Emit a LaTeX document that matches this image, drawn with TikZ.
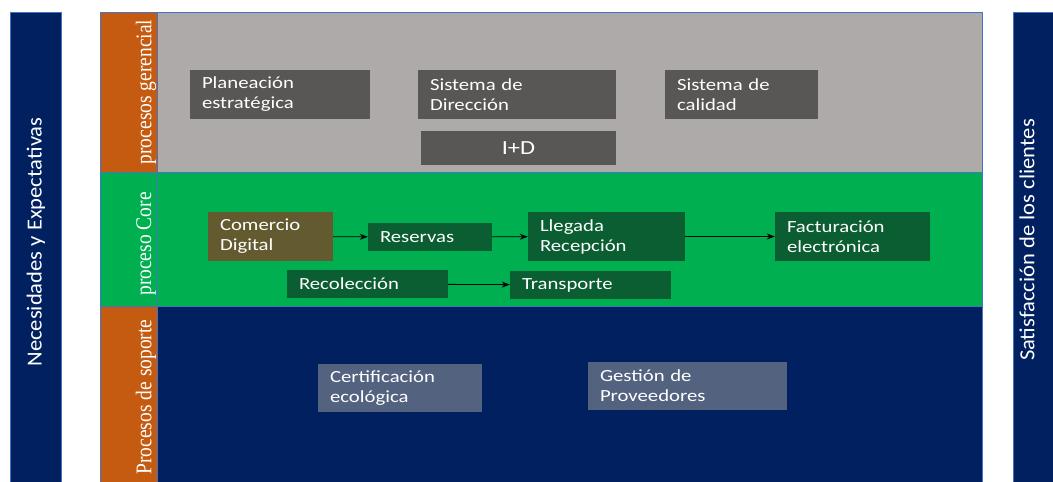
\documentclass[tikz,border=0pt]{standalone}
\usepackage{fontspec}
\setmainfont{Carlito}
\newfontfamily\boxfont{Carlito}[FakeStretch=1.22]
\newfontfamily\bandfont{Carlito}[FakeStretch=1.05]
\newfontfamily\tagfont{Liberation Serif}[FakeStretch=0.87]
\usepackage{tikz}
\usetikzlibrary{positioning,arrows.meta}
\definecolor{navyblue}{HTML}{002060}
\definecolor{tagorange}{HTML}{C55A11}
\definecolor{mgmtgray}{HTML}{AEAAAA}
\definecolor{coregreen}{HTML}{00B050}
\definecolor{edgeblue}{HTML}{4472C4}
\definecolor{boxgray}{HTML}{595656}
\definecolor{boxbrown}{HTML}{635A30}
\definecolor{boxgreen}{HTML}{0B5D32}
\definecolor{boxslate}{HTML}{52627F}
\tikzset{>={Stealth[length=8pt,width=6pt]}, % arrow heads
panel/.style={draw=edgeblue, line width=0.7pt}, % the big coloured areas
bandtext/.style={text=white, rotate=90, font=\bandfont\fontsize{21.5}{24}\selectfont}, % text on the side bands
tag/.style={text=white, rotate=90, font=\tagfont\fontsize{22.4}{24}\selectfont}, % row names
box/.style={text=white, align=left, inner xsep=12pt, inner ysep=0pt, font=\boxfont\fontsize{17}{20}\selectfont}, % process boxes
flow/.style={->, line width=0.8pt}, % arrows between processes
}

\begin{document}
\begin{tikzpicture}[x=1pt, y=-1pt]
\useasboundingbox (0,0) rectangle (1053,482);

% side bands
\node[panel, fill=navyblue, minimum width=51, minimum height=478] (need) at (35.5,251) {};
\node[bandtext] at (36,242) {Necesidades y Expectativas};
\node[panel, fill=navyblue, minimum width=46, minimum height=478] (sat) at (1036,251) {};
\node[bandtext] at (1027,240) {Satisfacción de los clientes};

% rows
\node[panel, fill=mgmtgray, minimum width=825, minimum height=160] (mgmt) at (569.5,92) {};
\node[panel, fill=tagorange, minimum width=57, minimum height=160] (tmgmt) at (128.5,92) {};
\node[tag] at (146,92) {procesos gerencial};

\node[panel, fill=coregreen, minimum width=825, minimum height=134] (core) at (569.5,239) {};
\node[panel, fill=coregreen, minimum width=57, minimum height=134] (tcore) at (128.5,239) {};
\node[tag] at (146,244) {proceso Core};

\node[panel, fill=navyblue, minimum width=825, minimum height=184] (supp) at (569.5,398) {};
\node[panel, fill=tagorange, minimum width=57, minimum height=184] (tsupp) at (128.5,398) {};
\node[tag] at (146,397) {Procesos de soporte};

% management boxes
\node[box, fill=boxgray, minimum width=180, minimum height=49, text width=156] (plan) at (280,94.5) {Planeación\\estratégica};
\node[box, fill=boxgray, minimum width=198, minimum height=49, text width=174] (dir) at (517,94.5) {Sistema de\\Dirección};
\node[box, fill=boxgray, minimum width=153, minimum height=49, text width=129] (qual) at (741.5,94.5) {Sistema de\\calidad};
\node[box, fill=boxgray, align=center, minimum width=195, minimum height=34, font=\boxfont\fontsize{20}{24}\selectfont] (rd) at (518.5,148) {I+D};

% core boxes
\node[box, fill=boxbrown, minimum width=125, minimum height=49, text width=101] (com) at (270.5,236.5) {Comercio\\Digital};
\node[box, fill=boxgreen, minimum width=124, minimum height=28, text width=100] (res) at (430,237) {Reservas};
\node[box, fill=boxgreen, minimum width=157, minimum height=49, text width=133] (arr) at (606.5,236.5) {Llegada\\Recepción};
\node[box, fill=boxgreen, minimum width=155, minimum height=49, text width=131] (inv) at (852.5,236.5) {Facturación\\electrónica};
\node[box, fill=boxgreen, minimum width=161, minimum height=28, text width=137] (pick) at (367.5,284) {Recolección};
\node[box, fill=boxgreen, minimum width=161, minimum height=28, text width=137] (trans) at (590.5,285) {Transporte};

% support boxes
\node[box, fill=boxslate, minimum width=164, minimum height=48, text width=140] (cert) at (400,388) {Certificación\\ecológica};
\node[box, fill=boxslate, minimum width=199, minimum height=48, text width=175] (prov) at (687.5,386) {Gestión de\\Proveedores};

\draw[flow] (com) -- (res);
\draw[flow] (res) -- (arr);
\draw[flow] (arr) -- (inv);
\draw[flow] (pick) -- (trans);

\end{tikzpicture}
\end{document}
